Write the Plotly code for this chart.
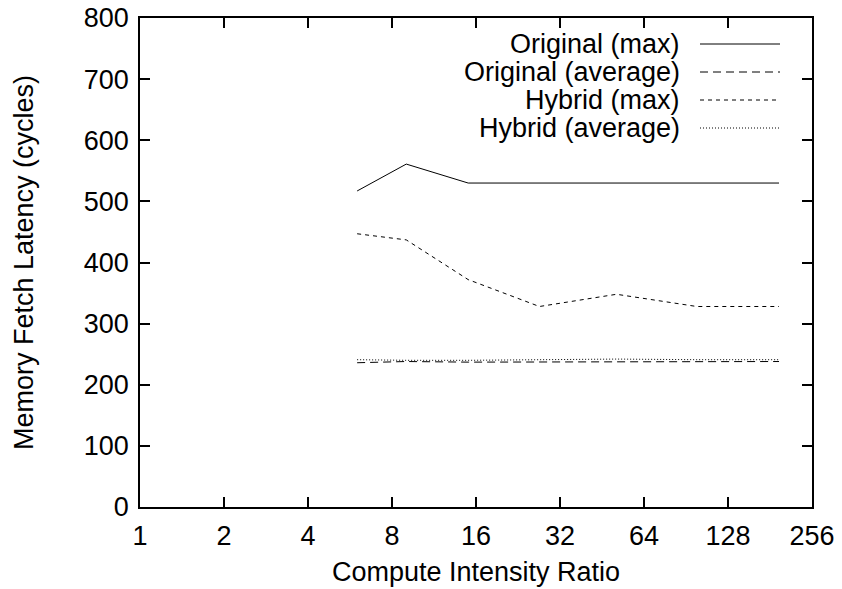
import plotly.graph_objects as go

ratios = [6, 9, 15, 27, 51, 99, 195]
orig_max = [517, 561, 530, 530, 530, 531, 530]
orig_avg = [236, 238, 237, 237, 237, 237, 238]
hyb_max = [447, 437, 372, 328, 348, 328, 328]
hyb_avg = [241, 240, 240, 241, 242, 241, 241]
x_ticks = [1, 2, 4, 8, 16, 32, 64, 128, 256]
y_ticks = [0, 100, 200, 300, 400, 500, 600, 700, 800]

series = [
    ("Original (max)", orig_max, "solid"),
    ("Original (average)", orig_avg, "8px,5px"),
    ("Hybrid (max)", hyb_max, "4px,4px"),
    ("Hybrid (average)", hyb_avg, "1px,2px"),
]

FONT = "Liberation Sans, Arial, sans-serif"
FS = 27
fig = go.Figure()
for name, vals, dash in series:
    fig.add_trace(go.Scatter(x=ratios, y=vals, mode="lines", name=name,
                             line=dict(color="black", width=1, dash=dash),
                             showlegend=False))

W, H = 842, 589
ml, mr, mt, mb = 140, 30, 18, 82
pw = W - ml - mr
ph = H - mt - mb

def px(xp):
    return (xp - ml) / pw

def py(yp):
    return 1 - (yp - mt) / ph

rows = [44, 72, 100, 128]
for (name, vals, dash), ry in zip(series, rows):
    fig.add_annotation(x=px(682), y=py(ry), xref="paper", yref="paper",
                       text=name, showarrow=False, xanchor="right", yanchor="middle",
                       font=dict(family=FONT, size=FS, color="black"))
    fig.add_shape(type="line", xref="paper", yref="paper",
                  x0=px(700), x1=px(780), y0=py(ry), y1=py(ry),
                  line=dict(color="black", width=1, dash=dash))

axis_common = dict(showgrid=False, zeroline=False, showline=True, linecolor="black",
                   linewidth=1.5, mirror="allticks", ticks="inside", ticklen=10,
                   tickwidth=1.5, tickcolor="black", automargin=False,
                   tickfont=dict(family=FONT, size=FS, color="black"))

fig.update_xaxes(type="log", range=[0, 2.40824], tickvals=x_ticks,
                 ticktext=[str(v) for v in x_ticks], ticklabelstandoff=4,
                 title=dict(text="Compute Intensity Ratio", standoff=12,
                            font=dict(family=FONT, size=FS, color="black")),
                 **axis_common)
fig.update_yaxes(range=[0, 800], tickvals=y_ticks, ticklabelstandoff=4,
                 title=dict(text="Memory Fetch Latency (cycles)", standoff=42,
                            font=dict(family=FONT, size=FS, color="black")),
                 **axis_common)

fig.update_layout(width=W, height=H, margin=dict(l=ml, r=mr, t=mt, b=mb),
                  plot_bgcolor="white", paper_bgcolor="white",
                  font=dict(family=FONT, size=FS, color="black"))
fig.write_html("out.html")
